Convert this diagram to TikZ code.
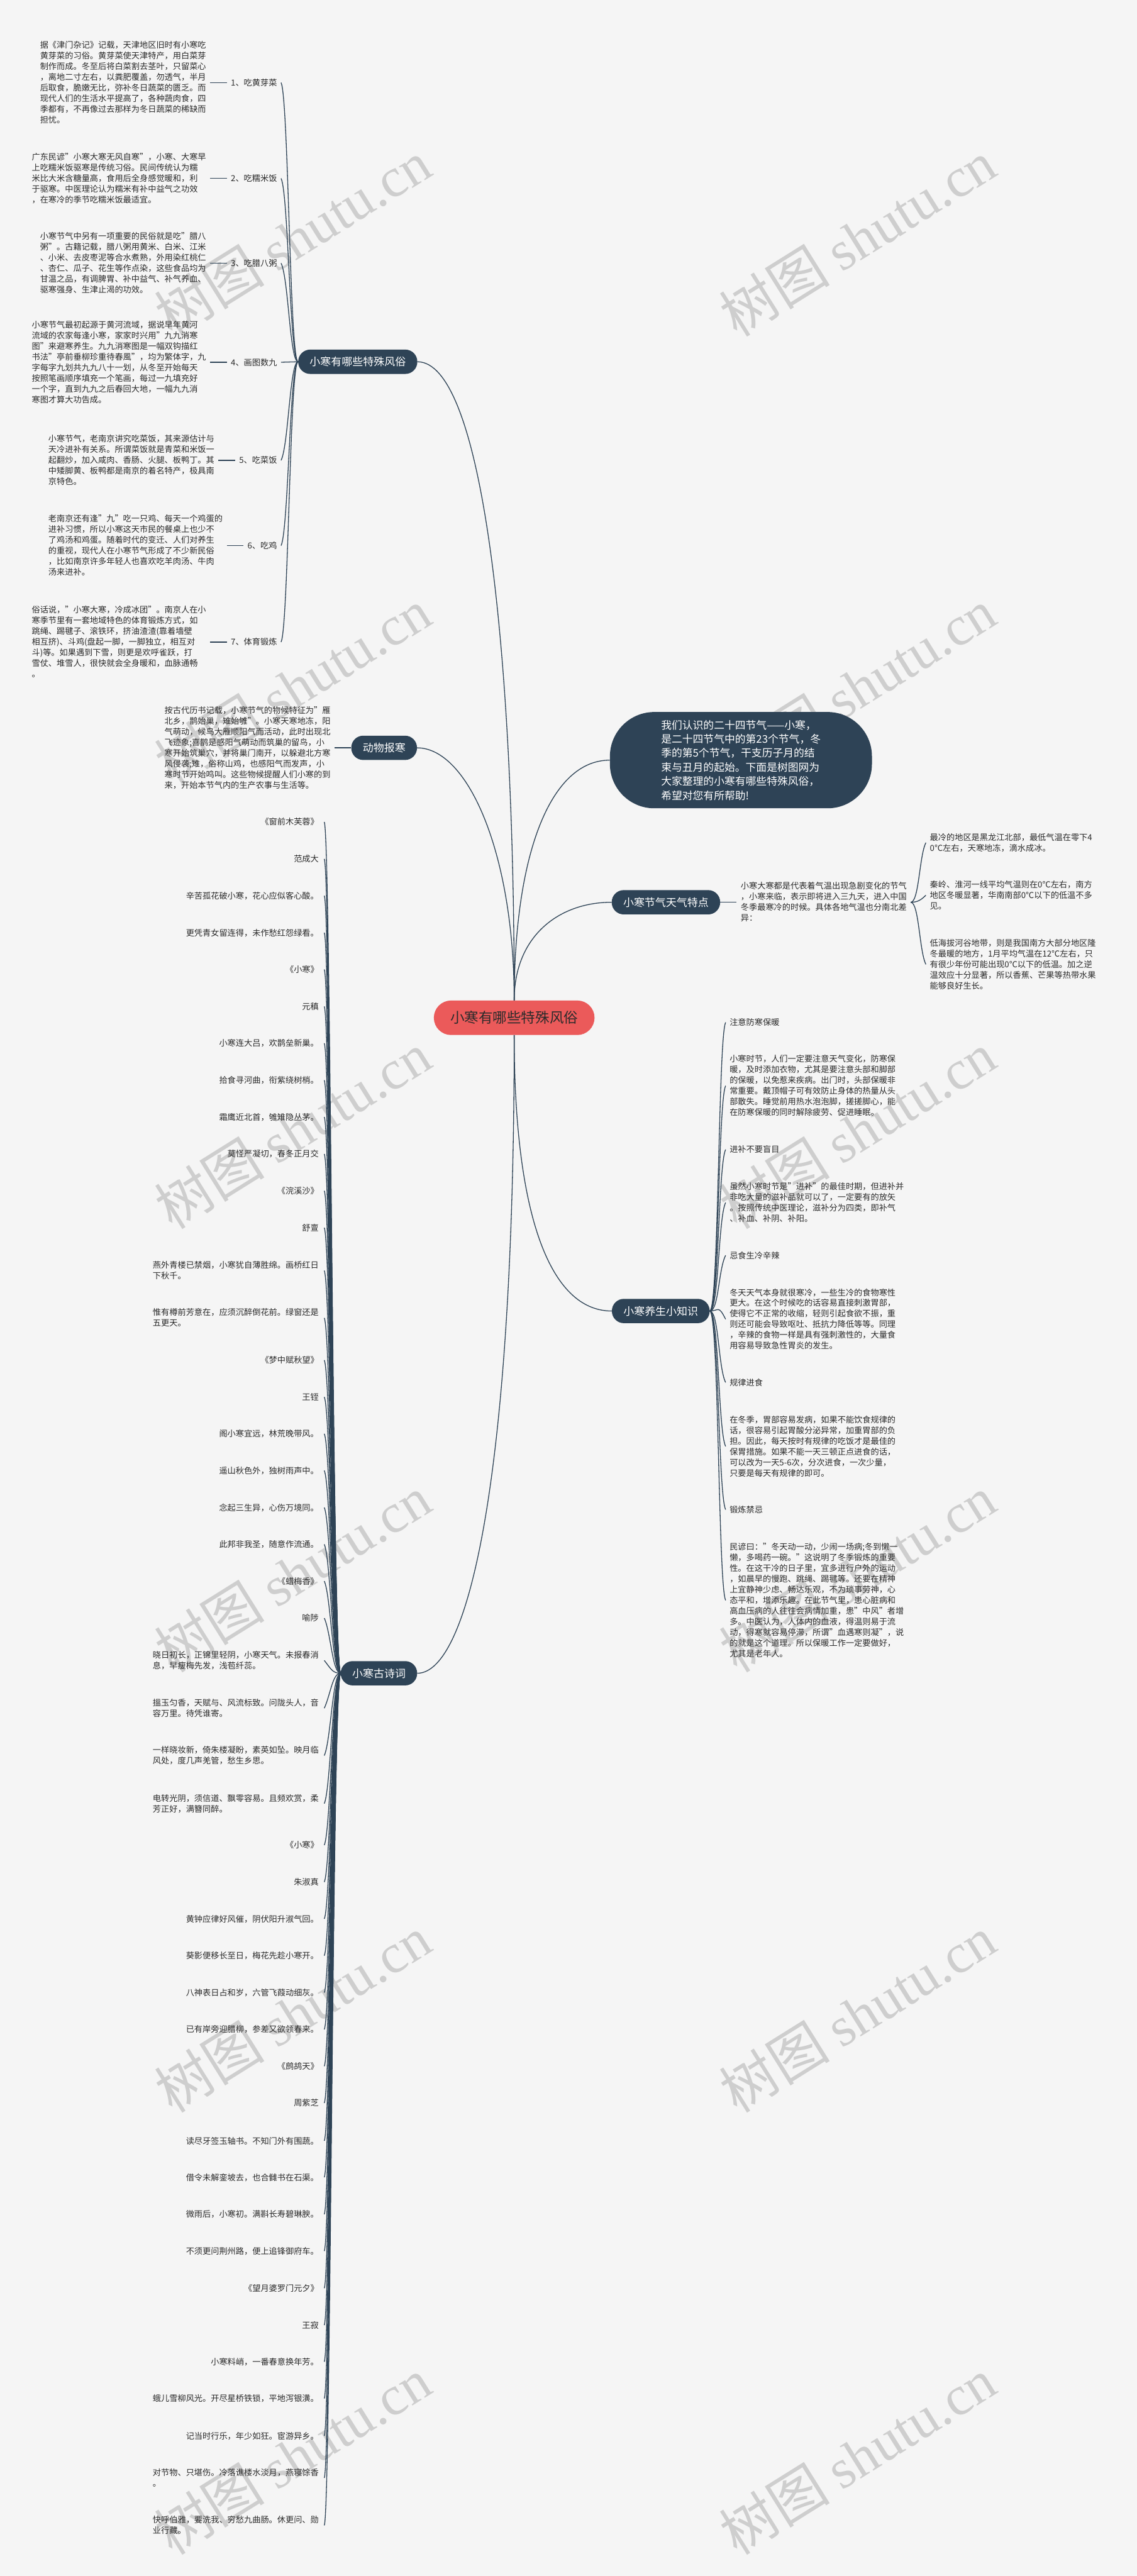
\documentclass[tikz,border=0pt]{standalone}
\usepackage{fontspec}
\setmainfont{Noto Sans CJK SC}
\newfontfamily\wmlat{Liberation Serif}
\definecolor{bgc}{HTML}{F5F5F5}
\definecolor{navy}{HTML}{2E4356}
\definecolor{rootc}{HTML}{EB5A5A}
\definecolor{txtc}{HTML}{2B2B2B}
\definecolor{wmc}{HTML}{CECECE}
\newcommand\mystrut{\rule[-0.12em]{0pt}{1em}}
\tikzset{
  link/.style={draw=navy, line width=0.5mm},
  blk/.style={font=\fontsize{14.37}{18.5}\selectfont, text=txtc, align=left, inner xsep=2.4mm, inner ysep=0pt, execute at begin node=\mystrut, execute at end node=\mystrut},
  pit/.style={blk, anchor=east, inner xsep=3.3mm},
  br/.style={fill=navy, text=white, font=\fontsize{18.5}{22}\selectfont, rounded corners=7.3mm, minimum height=14.8mm, inner xsep=7mm, inner ysep=0pt, execute at begin node=\mystrut},
  rootn/.style={fill=rootc, text=txtc, font=\fontsize{24.6}{28}\selectfont, rounded corners=10.5mm, minimum height=21mm, inner xsep=10mm, inner ysep=0pt, execute at begin node=\mystrut},
  intro/.style={fill=navy, text=white, font=\fontsize{18.3}{24.4}\selectfont, align=left, rounded corners=27mm, minimum width=159.5mm, minimum height=58.6mm, inner sep=0pt},
  wm/.style={text=wmc, font=\fontsize{96}{96}\selectfont, rotate=32, inner sep=0pt}
}
\begin{document}
\begin{tikzpicture}[x=1mm,y=-1mm]
\useasboundingbox (0,0) rectangle (692,1568);
\fill[bgc] (0,0) rectangle (692,1568);
% watermarks
\foreach \wy in {145,418,688,958,1226,1495}{
  \node[wm] at (178,\wy) {树图 {\wmlat shutu.cn}};
  \node[wm] at (522,\wy) {树图 {\wmlat shutu.cn}};
}
% root and main branches
\node[rootn] (root) at (313,619.5) {小寒有哪些特殊风俗};
\node[br, anchor=east] (cust) at (254.1,220.2) {小寒有哪些特殊风俗};
\node[br, anchor=east] (anim) at (253.9,455.2) {动物报寒};
\node[intro, anchor=west] (intro) at (371.2,462.7) {我们认识的二十四节气——小寒，\\是二十四节气中的第23个节气，冬\\季的第5个节气，干支历子月的结\\束与丑月的起始。下面是树图网为\\大家整理的小寒有哪些特殊风俗，\\希望对您有所帮助!};
\node[br, anchor=west] (wea) at (372.3,549.2) {小寒节气天气特点};
\node[br, anchor=west] (ys) at (372.4,798) {小寒养生小知识};
\node[br, anchor=east] (poem) at (254,1018.5) {小寒古诗词};

\draw[link] (root.north) .. controls (313,390) and (293,220.2) .. (cust.east);
\draw[link] (root.north) .. controls (313,520) and (285,455.2) .. (anim.east);
\draw[link] (root.north) .. controls (313,520) and (335,462.7) .. (intro.west);
\draw[link] (root.north) .. controls (313,570) and (340,549.2) .. (wea.west);
\draw[link] (root.south) .. controls (313,740) and (335,798) .. (ys.west);
\draw[link] (root.south) .. controls (313,900) and (285,1018.5) .. (poem.east);

% customs
\node[blk, anchor=east] (l1) at (171.1,50.3) {1、吃黄芽菜};
\node[blk, anchor=east] (l2) at (171.1,108.6) {2、吃糯米饭};
\node[blk, anchor=east] (l3) at (171.1,160.2) {3、吃腊八粥};
\node[blk, anchor=east] (l4) at (171.1,220.5) {4、画图数九};
\node[blk, anchor=east] (l5) at (171.1,280.2) {5、吃菜饭};
\node[blk, anchor=east] (l6) at (171.1,332.1) {6、吃鸡};
\node[blk, anchor=east] (l7) at (171.1,390.8) {7、体育锻炼};
\node[blk, anchor=east] (b1) at ([xshift=-10.2mm]l1.west) {据《津门杂记》记载，天津地区旧时有小寒吃\\黄芽菜的习俗。黄芽菜使天津特产，用白菜芽\\制作而成。冬至后将白菜割去茎叶，只留菜心\\，离地二寸左右，以粪肥覆盖，勿透气，半月\\后取食，脆嫩无比，弥补冬日蔬菜的匮乏。而\\现代人们的生活水平提高了，各种蔬肉食，四\\季都有，不再像过去那样为冬日蔬菜的稀缺而\\担忧。};
\node[blk, anchor=east] (b2) at ([xshift=-10.2mm]l2.west) {广东民谚"小寒大寒无风自寒"，小寒、大寒早\\上吃糯米饭驱寒是传统习俗。民间传统认为糯\\米比大米含糖量高，食用后全身感觉暖和，利\\于驱寒。中医理论认为糯米有补中益气之功效\\，在寒冷的季节吃糯米饭最适宜。};
\node[blk, anchor=east] (b3) at ([xshift=-10.2mm]l3.west) {小寒节气中另有一项重要的民俗就是吃"腊八\\粥"。古籍记载，腊八粥用黄米、白米、江米\\、小米、去皮枣泥等合水煮熟，外用染红桃仁\\、杏仁、瓜子、花生等作点染，这些食品均为\\甘温之品，有调脾胃、补中益气、补气养血、\\驱寒强身、生津止渴的功效。};
\node[blk, anchor=east] (b4) at ([xshift=-10.2mm]l4.west) {小寒节气最初起源于黄河流域，据说早年黄河\\流域的农家每逢小寒，家家时兴用"九九消寒\\图"来避寒养生。九九消寒图是一幅双钩描红\\书法"亭前垂柳珍重待春風"，均为繁体字，九\\字每字九划共九九八十一划，从冬至开始每天\\按照笔画顺序填充一个笔画，每过一九填充好\\一个字，直到九九之后春回大地，一幅九九消\\寒图才算大功告成。};
\node[blk, anchor=east] (b5) at ([xshift=-10.2mm]l5.west) {小寒节气，老南京讲究吃菜饭，其来源估计与\\天冷进补有关系。所谓菜饭就是青菜和米饭一\\起翻炒，加入咸肉、香肠、火腿、板鸭丁。其\\中矮脚黄、板鸭都是南京的着名特产，极具南\\京特色。};
\node[blk, anchor=east] (b6) at ([xshift=-10.2mm]l6.west) {老南京还有逢"九"吃一只鸡、每天一个鸡蛋的\\进补习惯，所以小寒这天市民的餐桌上也少不\\了鸡汤和鸡蛋。随着时代的变迁、人们对养生\\的重视，现代人在小寒节气形成了不少新民俗\\，比如南京许多年轻人也喜欢吃羊肉汤、牛肉\\汤来进补。};
\node[blk, anchor=east] (b7) at ([xshift=-10.2mm]l7.west) {俗话说，"小寒大寒，冷成冰团"。南京人在小\\寒季节里有一套地域特色的体育锻炼方式，如\\跳绳、踢毽子、滚铁环，挤油渣渣(靠着墙壁\\相互挤)、斗鸡(盘起一脚，一脚独立，相互对\\斗)等。如果遇到下雪，则更是欢呼雀跃，打\\雪仗、堆雪人，很快就会全身暖和，血脉通畅\\。};
\foreach \i in {1,...,7} \draw[link] (b\i) -- (l\i);
\foreach \i in {1,2,3} \draw[link] (cust.west) .. controls +(-5,0) and +(4.5,9) .. (l\i.east);
\draw[link] (cust.west) -- (l4.east);
\foreach \i in {5,6,7} \draw[link] (cust.west) .. controls +(-5,0) and +(4.5,-9) .. (l\i.east);

% animals
\node[blk, anchor=east] (ab) at ([xshift=-10.1mm]anim.west) {按古代历书记载，小寒节气的物候特征为"雁\\北乡，鹊始巢，雉始雊"。小寒天寒地冻，阳\\气萌动，候鸟大雁顺阳气而活动，此时出现北\\飞迹象;喜鹊是感阳气萌动而筑巢的留鸟，小\\寒开始筑巢穴，并将巢门南开，以躲避北方寒\\风侵袭;雉，俗称山鸡，也感阳气而发声，小\\寒时节开始鸣叫。这些物候提醒人们小寒的到\\来，开始本节气内的生产农事与生活等。};
\draw[link] (ab) -- (anim);

% weather
\node[blk, anchor=west] (wd) at ([xshift=10mm]wea.east) {小寒大寒都是代表着气温出现急剧变化的节气\\，小寒来临，表示即将进入三九天，进入中国\\冬季最寒冷的时候。具体各地气温也分南北差\\异：};
\draw[link] (wea) -- (wd);
\node[blk, anchor=west] (w1) at (563.6,512.9) {最冷的地区是黑龙江北部，最低气温在零下4\\0℃左右，天寒地冻，滴水成冰。};
\node[blk, anchor=west] (w2) at (563.6,544.9) {秦岭、淮河一线平均气温则在0℃左右，南方\\地区冬暖显著，华南南部0℃以下的低温不多\\见。};
\node[blk, anchor=west] (w3) at (563.6,587.0) {低海拔河谷地带，则是我国南方大部分地区隆\\冬最暖的地方，1月平均气温在12℃左右，只\\有很少年份可能出现0℃以下的低温。加之逆\\温效应十分显著，所以香蕉、芒果等热带水果\\能够良好生长。};
\draw[link] (wd.east) .. controls +(5,0) and +(-4,8) .. (w1.west);
\draw[link] (wd.east) .. controls +(4,0) and +(-3,3) .. (w2.west);
\draw[link] (wd.east) .. controls +(5,0) and +(-4,-8) .. (w3.west);

% health
\node[blk, anchor=west] (y1) at (441.7,622.3) {注意防寒保暖};
\node[blk, anchor=west] (y2) at (441.7,660.9) {小寒时节，人们一定要注意天气变化，防寒保\\暖，及时添加衣物，尤其是要注意头部和脚部\\的保暖，以免惹来疾病。出门时，头部保暖非\\常重要。戴顶帽子可有效防止身体的热量从头\\部散失。睡觉前用热水泡泡脚，搓搓脚心，能\\在防寒保暖的同时解除疲劳、促进睡眠。};
\node[blk, anchor=west] (y3) at (441.7,699.7) {进补不要盲目};
\node[blk, anchor=west] (y4) at (441.7,732.0) {虽然小寒时节是"进补"的最佳时期，但进补并\\非吃大量的滋补品就可以了，一定要有的放矢\\。按照传统中医理论，滋补分为四类，即补气\\、补血、补阴、补阳。};
\node[blk, anchor=west] (y5) at (441.7,764.1) {忌食生冷辛辣};
\node[blk, anchor=west] (y6) at (441.7,803.0) {冬天天气本身就很寒冷，一些生冷的食物寒性\\更大。在这个时候吃的话容易直接刺激胃部，\\使得它不正常的收缩，轻则引起食欲不振，重\\则还可能会导致呕吐、抵抗力降低等等。同理\\，辛辣的食物一样是具有强刺激性的，大量食\\用容易导致急性胃炎的发生。};
\node[blk, anchor=west] (y7) at (441.7,841.5) {规律进食};
\node[blk, anchor=west] (y8) at (441.7,880.4) {在冬季，胃部容易发病，如果不能饮食规律的\\话，很容易引起胃酸分泌异常，加重胃部的负\\担。因此，每天按时有规律的吃饭才是最佳的\\保胃措施。如果不能一天三顿正点进食的话，\\可以改为一天5-6次，分次进食，一次少量，\\只要是每天有规律的即可。};
\node[blk, anchor=west] (y9) at (441.7,918.9) {锻炼禁忌};
\node[blk, anchor=west] (y10) at (441.7,974.1) {民谚曰："冬天动一动，少闹一场病;冬到懒一\\懒，多喝药一碗。"这说明了冬季锻炼的重要\\性。在这干冷的日子里，宜多进行户外的运动\\，如晨早的慢跑、跳绳、踢毽等。还要在精神\\上宜静神少虑、畅达乐观，不为琐事劳神，心\\态平和，增添乐趣。在此节气里，患心脏病和\\高血压病的人往往会病情加重，患"中风"者增\\多。中医认为，人体内的血液，得温则易于流\\动，得寒就容易停滞，所谓"血遇寒则凝"，说\\的就是这个道理。所以保暖工作一定要做好，\\尤其是老年人。};
\foreach \i in {1,...,5} \draw[link] (ys.east) .. controls +(5.5,0) and +(-4.5,9) .. (y\i.west);
\foreach \i in {6,...,10} \draw[link] (ys.east) .. controls +(5.5,0) and +(-4.5,-9) .. (y\i.west);

% poems
\node[pit] (p1) at (197.4,500.3) {《窗前木芙蓉》};
\node[pit] (p2) at (197.4,522.8) {范成大};
\node[pit] (p3) at (197.4,545.2) {辛苦孤花破小寒，花心应似客心酸。};
\node[pit] (p4) at (197.4,567.7) {更凭青女留连得，未作愁红怨绿看。};
\node[pit] (p5) at (197.4,590.1) {《小寒》};
\node[pit] (p6) at (197.4,612.6) {元稹};
\node[pit] (p7) at (197.4,635.0) {小寒连大吕，欢鹊垒新巢。};
\node[pit] (p8) at (197.4,657.5) {拾食寻河曲，衔紫绕树梢。};
\node[pit] (p9) at (197.4,679.9) {霜鹰近北首，雊雉隐丛茅。};
\node[pit] (p10) at (197.4,702.4) {莫怪严凝切，春冬正月交};
\node[pit] (p11) at (197.4,724.8) {《浣溪沙》};
\node[pit] (p12) at (197.4,747.3) {舒亶};
\node[pit] (p13) at (197.4,773.4) {燕外青楼已禁烟，小寒犹自薄胜绵。画桥红日\\下秋千。};
\node[pit] (p14) at (197.4,802.2) {惟有樽前芳意在，应须沉醉倒花前。绿窗还是\\五更天。};
\node[pit] (p15) at (197.4,827.9) {《梦中赋秋望》};
\node[pit] (p16) at (197.4,850.3) {王铚};
\node[pit] (p17) at (197.4,872.7) {阁小寒宜远，林荒晚带风。};
\node[pit] (p18) at (197.4,895.1) {遥山秋色外，独树雨声中。};
\node[pit] (p19) at (197.4,917.6) {念起三生异，心伤万境同。};
\node[pit] (p20) at (197.4,940.0) {此邦非我圣，随意作流通。};
\node[pit] (p21) at (197.4,962.4) {《蜡梅香》};
\node[pit] (p22) at (197.4,984.9) {喻陟};
\node[pit] (p23) at (197.4,1010.7) {晓日初长，正锦里轻阴，小寒天气。未报春消\\息，早瘦梅先发，浅苞纤蕊。};
\node[pit] (p24) at (197.4,1039.8) {搵玉匀香，天赋与、风流标致。问陇头人，音\\容万里。待凭谁寄。};
\node[pit] (p25) at (197.4,1068.6) {一样晓妆新，倚朱楼凝盼，素英如坠。映月临\\风处，度几声羌管，愁生乡思。};
\node[pit] (p26) at (197.4,1097.8) {电转光阴，须信道、飘零容易。且频欢赏，柔\\芳正好，满簪同醉。};
\node[pit] (p27) at (197.4,1123.1) {《小寒》};
\node[pit] (p28) at (197.4,1145.6) {朱淑真};
\node[pit] (p29) at (197.4,1168.0) {黄钟应律好风催，阴伏阳升淑气回。};
\node[pit] (p30) at (197.4,1190.4) {葵影便移长至日，梅花先趁小寒开。};
\node[pit] (p31) at (197.4,1212.9) {八神表日占和岁，六管飞葭动细灰。};
\node[pit] (p32) at (197.4,1235.3) {已有岸旁迎腊柳，参差又欲领春来。};
\node[pit] (p33) at (197.4,1257.7) {《鹧鸪天》};
\node[pit] (p34) at (197.4,1280.1) {周紫芝};
\node[pit] (p35) at (197.4,1303.1) {读尽牙签玉轴书。不知门外有围蔬。};
\node[pit] (p36) at (197.4,1325.3) {借令未解銮坡去，也合雠书在石渠。};
\node[pit] (p37) at (197.4,1347.8) {微雨后，小寒初。满斟长寿碧琳腴。};
\node[pit] (p38) at (197.4,1370.2) {不须更问荆州路，便上追锋御府车。};
\node[pit] (p39) at (197.4,1392.8) {《望月婆罗门元夕》};
\node[pit] (p40) at (197.4,1415.3) {王寂};
\node[pit] (p41) at (197.4,1437.6) {小寒料峭，一番春意换年芳。};
\node[pit] (p42) at (197.4,1459.9) {蛾儿雪柳风光。开尽星桥铁锁，平地泻银潢。};
\node[pit] (p43) at (197.4,1482.7) {记当时行乐，年少如狂。宦游异乡。};
\node[pit] (p44) at (197.4,1508.3) {对节物、只堪伤。冷落谯楼水淡月，燕寝馀香\\。};
\node[pit] (p45) at (197.4,1537.2) {快呼伯雅，要洗我、穷愁九曲肠。休更问、勋\\业行藏。};
\foreach \i in {1,...,22} \draw[link] (poem.west) .. controls +(-5,0) and +(4,9) .. (p\i.east);
\draw[link] (poem.west) .. controls +(-5,0) and +(4,5) .. (p23.east);
\foreach \i in {24,...,45} \draw[link] (poem.west) .. controls +(-5,0) and +(4,-9) .. (p\i.east);
\end{tikzpicture}
\end{document}
